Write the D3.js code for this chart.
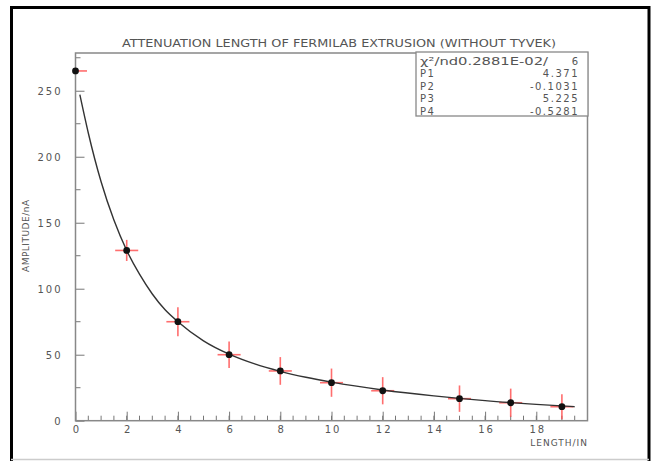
<!DOCTYPE html>
<html>
<head>
<meta charset="utf-8">
<script src="https://cdn.jsdelivr.net/npm/d3@7/dist/d3.min.js"></script>
<style>
  body { margin: 0; background: #fff; }
  text { font-family: "DejaVu Sans", sans-serif; fill: #555; }
</style>
</head>
<body>
<div id="chart"></div>
<script>
// measured points (length in inches, amplitude in nA)
var lengthIn = [0, 2, 4, 6, 8, 10, 12, 15, 17, 19];
var amplitude = [265, 129, 75, 50, 37.7, 28.8, 22.7, 16.7, 13.6, 10.6];
var ampErr = [1, 8, 11, 10, 10.5, 10.7, 10.3, 10, 10.7, 9.5];
var lenErr = [0.45, 0.45, 0.45, 0.45, 0.45, 0.45, 0.45, 0.45, 0.45, 0.45];

// fitted curve
var fitX = [0.17, 0.5, 1, 1.5, 2, 2.5, 3, 3.5, 4, 5, 6, 7, 8, 9, 10, 12, 14, 16, 18, 19.5];
var fitY = [247, 218, 181, 152, 129, 111, 96, 84, 75, 60.5, 50.4, 43, 37.4, 32.9, 29.2, 23.3, 18.8, 15.2, 12.4, 10.6];

var xTicks = [0, 2, 4, 6, 8, 10, 12, 14, 16, 18];
var yTicks = [0, 50, 100, 150, 200, 250];

var statLabels = ["P1", "P2", "P3", "P4"];
var statValues = ["4.371", "-0.1031", "5.225", "-0.5281"];
var chiLabel = "\u03C7\u00B2/nd0.2881E-02/";
var ndf = "6";

var W = 654, H = 465;
var margin = {top: 53, right: 66.5, bottom: 44.3, left: 75.5},
    width = W - margin.left - margin.right,
    height = H - margin.top - margin.bottom;

var svg = d3.select("#chart").append("svg")
    .attr("width", W)
    .attr("height", H);

// outer page frame
svg.append("path")
    .attr("d", "M11.5,461 L11.5,7.5 L649,7.5 L649,461")
    .attr("fill", "none").attr("stroke", "#000").attr("stroke-width", 3);
svg.append("line")
    .attr("x1", 11).attr("x2", 649).attr("y1", 459.5).attr("y2", 459.5)
    .attr("stroke", "#ccc").attr("stroke-width", 1.5);

var g = svg.append("g")
    .attr("transform", "translate(" + margin.left + "," + margin.top + ")");

var x = d3.scaleLinear().domain([0, 20]).range([0, width]);
var y = d3.scaleLinear().domain([0, 278.6]).range([height, 0]);

// minor ticks
g.append("g").selectAll("line")
    .data(d3.range(0, 20.01, 0.5))
    .enter().append("line")
      .attr("x1", function(d) { return x(d); })
      .attr("x2", function(d) { return x(d); })
      .attr("y1", height).attr("y2", height - 5)
      .attr("stroke", "#777").attr("stroke-width", 1);
g.append("g").selectAll("line")
    .data(d3.range(25, 278, 50))
    .enter().append("line")
      .attr("x1", 0).attr("x2", 5)
      .attr("y1", function(d) { return y(d); })
      .attr("y2", function(d) { return y(d); })
      .attr("stroke", "#777").attr("stroke-width", 1);

// X axis
var xAxis = g.append("g")
    .attr("transform", "translate(0," + height + ")")
    .call(d3.axisTop(x).tickValues(xTicks).tickSize(9).tickFormat(""));
xAxis.select(".domain").remove();
xAxis.selectAll("line").attr("stroke", "#777");
xAxis.selectAll(".tick").append("text")
    .attr("y", 12)
    .attr("text-anchor", "middle")
    .style("font-size", "10px")
    .style("letter-spacing", "2px")
    .attr("dx", 1)
    .text(function(d) { return d; });

// Y axis
var yAxis = g.append("g")
    .call(d3.axisRight(y).tickValues(yTicks).tickSize(9).tickFormat(""));
yAxis.select(".domain").remove();
yAxis.selectAll("line").attr("stroke", "#777");
yAxis.selectAll(".tick").append("text")
    .attr("x", -13)
    .attr("dy", "0.36em")
    .attr("text-anchor", "end")
    .style("font-size", "10px")
    .style("letter-spacing", "2px")
    .text(function(d) { return d; });

// plot frame
g.append("rect")
    .attr("width", width).attr("height", height)
    .attr("fill", "none").attr("stroke", "#888").attr("stroke-width", 1.5);

// error bars
var pts = lengthIn.map(function(d, i) {
  return {x: d, y: amplitude[i], ey: ampErr[i], ex: lenErr[i]};
});
var eb = g.append("g").attr("stroke", "#ff4a4a").attr("stroke-width", 1.6).attr("opacity", 0.8);
eb.selectAll(".eh").data(pts).enter().append("line")
    .attr("x1", function(d) { return x(Math.max(0, d.x - d.ex)); })
    .attr("x2", function(d) { return x(d.x + d.ex); })
    .attr("y1", function(d) { return y(d.y); })
    .attr("y2", function(d) { return y(d.y); });
eb.selectAll(".ev").data(pts).enter().append("line")
    .attr("x1", function(d) { return x(d.x); })
    .attr("x2", function(d) { return x(d.x); })
    .attr("y1", function(d) { return y(d.y - d.ey); })
    .attr("y2", function(d) { return y(d.y + d.ey); });

// fit curve
var line = d3.line()
    .x(function(d, i) { return x(fitX[i]); })
    .y(function(d) { return y(d); })
    .curve(d3.curveMonotoneX);
g.append("path")
    .datum(fitY)
    .attr("d", line)
    .attr("fill", "none").attr("stroke", "#333").attr("stroke-width", 1.4);

// points
g.append("g").selectAll("circle")
    .data(pts).enter().append("circle")
      .attr("cx", function(d) { return x(d.x); })
      .attr("cy", function(d) { return y(d.y); })
      .attr("r", 3.4)
      .attr("fill", "#111");

// title
svg.append("text")
    .attr("x", 122).attr("y", 47)
    .attr("textLength", 434).attr("lengthAdjust", "spacingAndGlyphs")
    .style("font-size", "10px")
    .text("ATTENUATION LENGTH OF FERMILAB EXTRUSION (WITHOUT TYVEK)");

// stats box
var bx = 416, by = 52, bw = 588 - 416, bh = 64;
svg.append("rect")
    .attr("x", bx).attr("y", by).attr("width", bw).attr("height", bh)
    .attr("fill", "#fff").attr("stroke", "#888").attr("stroke-width", 1.3);
svg.append("text")
    .attr("x", 420).attr("y", 65)
    .attr("textLength", 128).attr("lengthAdjust", "spacingAndGlyphs")
    .style("font-size", "10px")
    .text(chiLabel);
svg.append("text")
    .attr("x", 578).attr("y", 65).attr("text-anchor", "end")
    .style("font-size", "10px")
    .text(ndf);
statLabels.forEach(function(lab, i) {
  var yy = 77 + i * 12.6;
  svg.append("text")
      .attr("x", 420).attr("y", yy)
      .style("font-size", "10px").style("letter-spacing", "1.5px")
      .text(lab);
  svg.append("text")
      .attr("x", 579).attr("y", yy).attr("text-anchor", "end")
      .style("font-size", "10px").style("letter-spacing", "1.5px")
      .text(statValues[i]);
});

// axis titles
svg.append("text")
    .attr("x", 588).attr("y", 446).attr("text-anchor", "end")
    .style("font-size", "9px").style("letter-spacing", "1px")
    .text("LENGTH/IN");
svg.append("text")
    .attr("transform", "translate(29,272) rotate(-90)")
    .style("font-size", "9px").style("letter-spacing", "0.5px")
    .text("AMPLITUDE/nA");
</script>
</body>
</html>
